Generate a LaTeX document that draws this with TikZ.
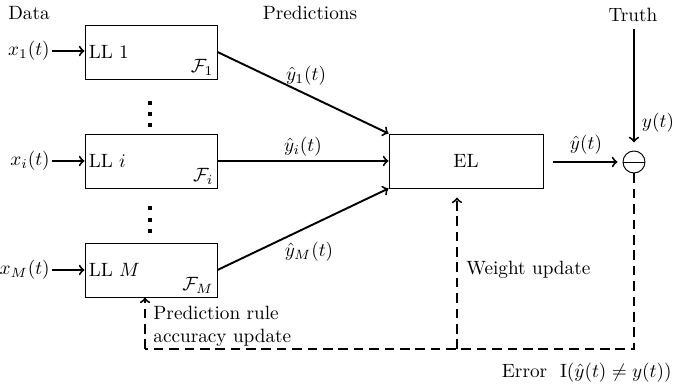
\documentclass[tikz,border=0pt]{standalone}
\usetikzlibrary{calc}
\begin{document}
\begin{tikzpicture}[x=0.52pt,y=-0.52pt,
  llbox/.style={draw,line width=0.5pt,minimum width=68.64pt,minimum height=28.08pt,inner sep=0pt},
  elbox/.style={draw,line width=0.5pt,minimum width=80.08pt,minimum height=28.08pt,inner sep=0pt},
  inlab/.style={inner sep=1pt,anchor=east},
  arr/.style={->,line width=1pt},
  fb/.style={line width=1pt,dash pattern=on 5pt off 3pt},
  dotmark/.style={fill,inner sep=0pt,minimum size=1.7pt,rectangle}]
\useasboundingbox (0,0) rectangle (673,390);
% titles
\node (data) at (29,13) {Data};
\node (pred) at (310,13) {Predictions};
\node (truth) at (633,15) {Truth};
% local learners
\node[llbox,label={[anchor=west,inner sep=2pt]west:LL $1$},label={[anchor=south east,inner sep=2pt]south east:$\mathcal{F}_1$}] (ll1) at (151,52) {};
\node[llbox,label={[anchor=west,inner sep=2pt]west:LL $i$},label={[anchor=south east,inner sep=2pt]south east:$\mathcal{F}_i$}] (lli) at (151,161) {};
\node[llbox,label={[anchor=west,inner sep=2pt]west:LL $M$},label={[anchor=south east,inner sep=2pt]south east:$\mathcal{F}_M$}] (llm) at (151,270) {};
% dots
\node[dotmark] (d1) at (150,103) {};
\node[dotmark] (d2) at (150,114) {};
\node[dotmark] (d3) at (150,125) {};
\node[dotmark] (d4) at (150,208) {};
\node[dotmark] (d5) at (150,220) {};
\node[dotmark] (d6) at (150,231) {};
% inputs
\node[inlab] (x1) at (52,51) {$x_1(t)$};
\node[inlab] (xi) at (52,161) {$x_i(t)$};
\node[inlab] (xm) at (52,270) {$x_M(t)$};
\draw[arr] (x1.east) -- (x1.east -| ll1.west);
\draw[arr] (xi.east) -- (xi.east -| lli.west);
\draw[arr] (xm.east) -- (xm.east -| llm.west);
% ensemble learner
\node[elbox] (el) at (466,161) {EL};
\draw[arr] (ll1.east) -- (el.north west);
\draw[arr] (lli.east) -- node[above,inner sep=2pt] (yi) {$\hat{y}_i(t)$} (el.west);
\draw[arr] (llm.east) -- (el.south west);
\node (y1) at (306,76) {$\hat{y}_1(t)$};
\node (ym) at (309,252) {$\hat{y}_M(t)$};
% comparison
\node[draw,circle,line width=0.5pt,minimum size=11.44pt,inner sep=0pt] (cmp) at (634,162) {};
\draw[line width=0.5pt] (cmp.west) -- (cmp.east);
\draw[arr,shorten <=4.7pt,shorten >=2.6pt] (el.east |- cmp.west) -- (cmp.west);
\node (yh) at (586,145) {$\hat{y}(t)$};
\draw[arr,shorten >=4.2pt] (cmp.north |- truth.south) -- (cmp.north);
\node (yt) at (658,123) {$y(t)$};
% feedback
\coordinate (bl) at (145,349);
\coordinate (wu) at (457,349);
\draw[fb] (cmp.south) |- (bl);
\draw[fb,->] (bl) -- (bl |- llm.south);
\draw[fb,->,shorten >=4.7pt] (wu) -- (wu |- el.south);
\node[anchor=west,align=left,inner sep=0pt] (prl) at (153,326) {Prediction rule\\accuracy update};
\node[anchor=west,inner sep=0pt] (wul) at (466,270) {Weight update};
\node[anchor=east,inner sep=0pt] (err) at (672,373) {Error~~$\mathrm{I}(\hat{y}(t)\neq y(t))$};
\end{tikzpicture}
\end{document}
